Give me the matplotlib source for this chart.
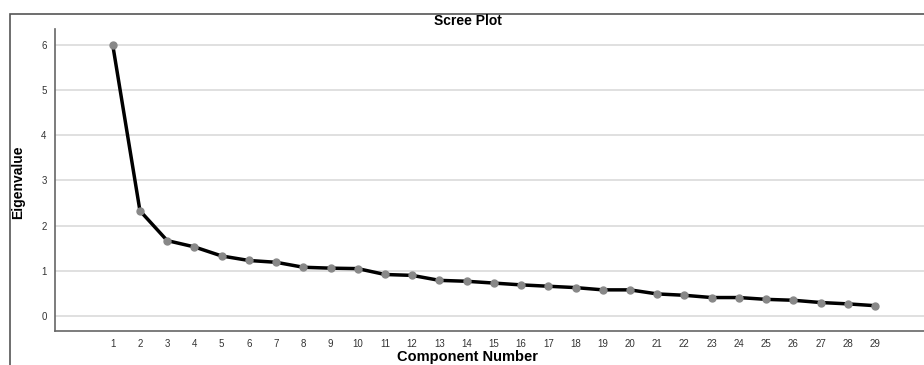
import matplotlib.pyplot as plt
from matplotlib.patches import Rectangle

components = list(range(1, 30))
eigenvalues = [6.00, 2.33, 1.67, 1.53, 1.33, 1.23, 1.19, 1.08, 1.06, 1.05,
               0.92, 0.90, 0.79, 0.77, 0.73, 0.69, 0.66, 0.63, 0.58, 0.58,
               0.49, 0.46, 0.41, 0.41, 0.37, 0.35, 0.30, 0.27, 0.23]
y_ticks = [0, 1, 2, 3, 4, 5, 6]

plt.rcParams['font.family'] = ['Liberation Sans', 'DejaVu Sans']

fig = plt.figure(figsize=(9.24, 3.65), dpi=100)

# outer frame of the chart
fig.patches.append(Rectangle((10 / 924, -0.1), 1.0, (365 - 14) / 365 + 0.1,
                             transform=fig.transFigure, fill=False,
                             edgecolor='#555555', linewidth=1.2))

ax = fig.add_axes([55 / 924, 34 / 365, 869 / 924, 302 / 365])
ax.plot(components, eigenvalues, color='black', linewidth=2.5, zorder=3)
ax.plot(components, eigenvalues, 'o', color='#888888', markersize=5, zorder=4)

ax.set_xlim(-1.12, 30.8)
ax.set_ylim(-0.33, 6.35)
ax.set_xticks(components)
ax.set_yticks(y_ticks)
ax.tick_params(length=0, labelsize=7, colors='#333333', pad=6)
ax.grid(axis='y', color='#dddddd', linewidth=1.3)
ax.set_axisbelow(True)
for s in ['top', 'right']:
    ax.spines[s].set_visible(False)
for s in ['left', 'bottom']:
    ax.spines[s].set_color('#666666')
    ax.spines[s].set_linewidth(1.2)

fig.text(468 / 924, 1 - 21 / 365, 'Scree Plot', ha='center', va='center',
         fontsize=10, fontweight='bold')
fig.text(468 / 924, 1 - 357 / 365, 'Component Number', ha='center',
         va='center', fontsize=10.5, fontweight='bold')
fig.text(18 / 924, 1 - 182 / 365, 'Eigenvalue', ha='center', va='center',
         rotation=90, fontsize=10, fontweight='bold')

fig.savefig('out.png', dpi=100)
